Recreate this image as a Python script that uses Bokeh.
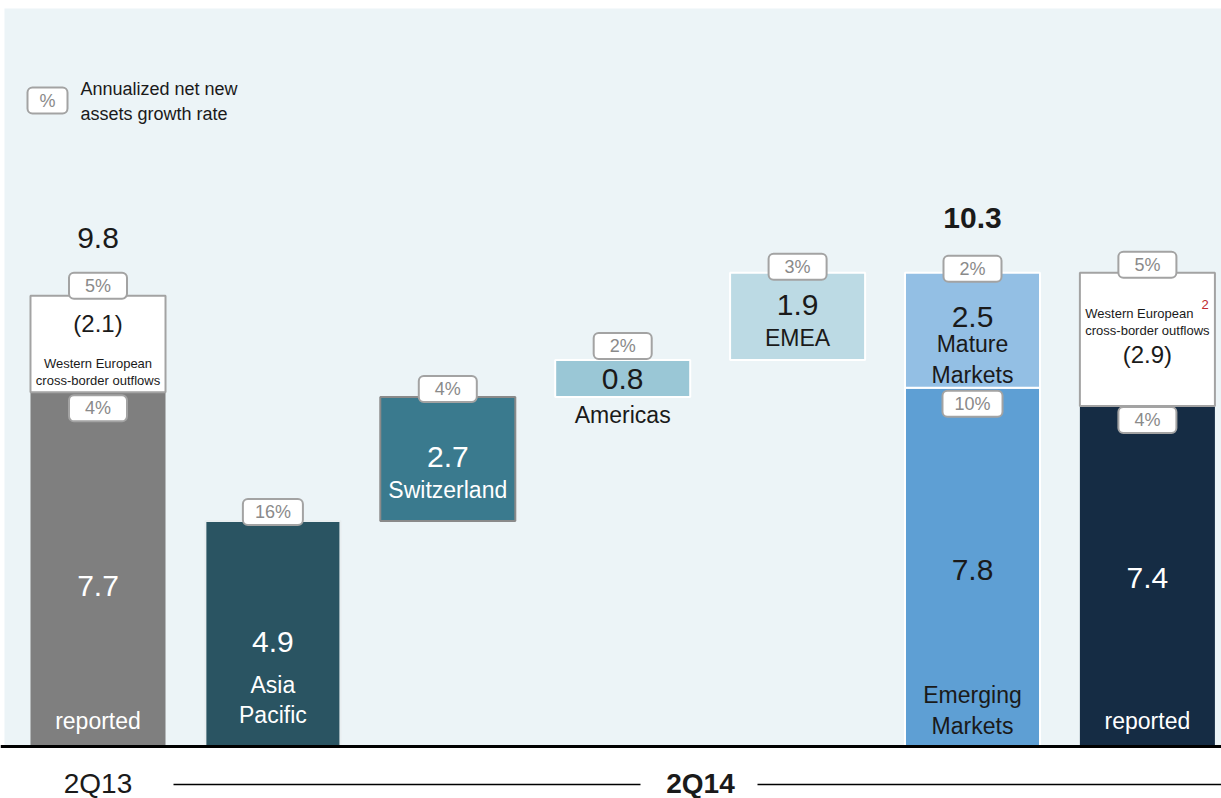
from bokeh.plotting import figure
from bokeh.models import Range1d, BoxAnnotation, Span
from bokeh.embed import file_html
from bokeh.resources import INLINE
from bokeh.core.properties import value

# ---------------- data ----------------
start_label = "2Q13"
end_label = "2Q14"

start_reported = 7.7
start_outflows = 2.1
start_total = 9.8
start_growth = ["4%", "5%"]          # base, outflow

region_names = [["Asia", "Pacific"], ["Switzerland"], ["Americas"], ["EMEA"]]
region_values = [4.9, 2.7, 0.8, 1.9]
region_growth = ["16%", "4%", "2%", "3%"]

market_names = [["Emerging", "Markets"], ["Mature", "Markets"]]
market_values = [7.8, 2.5]
market_growth = ["10%", "2%"]
market_total = 10.3

end_reported = 7.4
end_outflows = 2.9
end_growth = ["4%", "5%"]

outflow_label = ["Western European", "cross-border outflows"]
legend_lines = ["Annualized net new", "assets growth rate"]

# ---------------- styles ----------------
FONT = "Liberation Sans"
DARK = "#1a1a1a"
PCTC = "#8a8a8a"
BOXLINE = "#a3a3a3"
PANEL = "#ecf4f7"
C_START = "#7f7f7f"
C_REG = ["#2a5462", "#3a7a8e", "#9ac7d6", "#bcdae4"]
REG_LINE = ["#e8eef0", "#8a8a8a", "white", "white"]
REG_TXT = ["white", "white", DARK, DARK]
C_EM, C_MM = "#5e9fd4", "#93bfe4"
C_END = "#152c44"

PXU = 174.9   # px per category
PYU = 46.0    # px per unit
W, H = 1221, 798
BW = 0.772
OX, OY = 0, 0   # page offset of the figure


def X(px):
    return (px - 97.5) / PXU


def Y(py):
    return (746 - py) / PYU


p = figure(width=W, height=H, output_backend="svg", toolbar_location=None,
           x_range=Range1d(X(OX), X(OX + W)), y_range=Range1d(Y(OY + H), Y(OY)),
           x_axis_location=None, y_axis_location=None, min_border=0)
p.outline_line_color = None
p.grid.visible = False
p.background_fill_color = "white"
p.border_fill_color = "white"

p.add_layout(BoxAnnotation(bottom=0, top=Y(8), left=X(4), fill_color=PANEL,
                           fill_alpha=1, line_color=None, level="underlay"))


def lab(x, y, t, size, color=DARK, dy=0, dx=0, bold=False, align="center",
        baseline="middle"):
    p.text(x=[x], y=[y], text=[t], x_offset=dx, y_offset=dy,
           text_font=value(FONT), text_font_size=f"{size}px", text_color=color,
           text_font_style="bold" if bold else "normal",
           text_align=align, text_baseline=baseline)


def pct(x, y, t, dy=0):
    ph = 16 if len(t) <= 2 else 12
    if len(t) == 1:
        ph = 12
    p.text(x=[x], y=[y], text=[t], y_offset=dy, text_font=value(FONT),
           text_font_size="18px", text_color=PCTC, text_align="center",
           text_baseline="middle", background_fill_color="white",
           border_line_color=BOXLINE, border_line_width=2, border_radius=5,
           padding=dict(left=ph, right=ph, top=3, bottom=3))


# ---------------- start bar ----------------
p.vbar(x=[0], bottom=[0], top=[start_reported], width=BW, fill_color=C_START,
       line_color=None)
p.vbar(x=[0], bottom=[start_reported], top=[start_reported + start_outflows],
       width=BW, fill_color="white", line_color=BOXLINE, line_width=2)

# ---------------- regions ----------------
tops = []
acc = 0.0
for v in region_values:
    acc += v
    tops.append(acc)
bottoms = [t - v for t, v in zip(tops, region_values)]
rx = [1, 2, 3, 4]
p.vbar(x=rx, bottom=bottoms, top=tops, width=BW, fill_color=C_REG,
       line_color=REG_LINE, line_width=2)

# ---------------- markets ----------------
m_bottoms = [0, market_values[0]]
m_tops = [market_values[0], market_values[0] + market_values[1]]
p.vbar(x=[5, 5], bottom=m_bottoms, top=m_tops, width=BW,
       fill_color=[C_EM, C_MM], line_color="white", line_width=2)

# ---------------- end bar ----------------
p.vbar(x=[6], bottom=[0], top=[end_reported], width=BW, fill_color=C_END,
       line_color=None)
p.vbar(x=[6], bottom=[end_reported], top=[end_reported + end_outflows],
       width=BW, fill_color="white", line_color=BOXLINE, line_width=2)

# baseline
p.add_layout(Span(location=0, dimension="width", line_color="black",
                  line_width=3))

# ---------------- labels: start ----------------
lab(0, start_total, f"{start_total:.1f}", 30, dy=-58)
lab(0, start_total, f"({start_outflows:.1f})", 24, dy=28)
lab(0, start_reported, outflow_label[0], 13, dy=-29)
lab(0, start_reported, outflow_label[1], 13, dy=-12)
lab(0, start_reported / 2, f"{start_reported:.1f}", 30, color="white", dy=17)
lab(0, 0, "reported", 23, color="white", dy=-26)
pct(0, start_total, start_growth[1], dy=-10)
pct(0, start_reported, start_growth[0], dy=16)

# ---------------- labels: regions ----------------
val_dy = [8, -2, 0, -11]
name_dy = [[51, 81], [31], [36], [22]]
pct_dy = [-9, -8, -14, -6]
for i in range(4):
    mid = (bottoms[i] + tops[i]) / 2
    lab(rx[i], mid, f"{region_values[i]:.1f}", 30, color=REG_TXT[i], dy=val_dy[i])
    for nm, d in zip(region_names[i], name_dy[i]):
        lab(rx[i], mid, nm, 23, color=REG_TXT[i], dy=d)
for i in range(4):
    pct(rx[i], tops[i], region_growth[i], dy=pct_dy[i])

# ---------------- labels: markets ----------------
lab(5, market_total, f"{market_total:.1f}", 30, bold=True, dy=-55)
mm_mid = (m_bottoms[1] + m_tops[1]) / 2
lab(5, mm_mid, f"{market_values[1]:.1f}", 30, dy=-13)
lab(5, mm_mid, market_names[1][0], 23, dy=14)
lab(5, mm_mid, market_names[1][1], 23, dy=45)
em_mid = market_values[0] / 2
lab(5, em_mid, f"{market_values[0]:.1f}", 30, dy=3)
lab(5, 0, market_names[0][0], 23, dy=-52)
lab(5, 0, market_names[0][1], 23, dy=-21)
pct(5, m_tops[1], market_growth[1], dy=-4)
pct(5, m_tops[0], market_growth[0], dy=16)

# ---------------- labels: end ----------------
etop = end_reported + end_outflows
lab(6, etop, outflow_label[0], 13, dy=41, dx=-8)
lab(6, etop, "2", 13, color="#c0282d", dy=32, dx=54, align="left")
lab(6, etop, outflow_label[1], 13, dy=58)
lab(6, etop, f"({end_outflows:.1f})", 24, dy=82)
lab(6, end_reported / 2, f"{end_reported:.1f}", 30, color="white", dy=2)
lab(6, 0, "reported", 23, color="white", dy=-26)
pct(6, etop, end_growth[1], dy=-8)
pct(6, end_reported, end_growth[0], dy=14)

# ---------------- legend ----------------
pct(X(47), Y(100), "%")
lab(X(80), Y(88), legend_lines[0], 18, align="left")
lab(X(80), Y(113), legend_lines[1], 18, align="left")

# ---------------- period labels ----------------
lab(0, Y(783), start_label, 28)
lab(X(700), Y(783), end_label, 28, bold=True)
p.segment(x0=[X(173), X(757)], y0=[Y(784), Y(784)], x1=[X(640), X(1221)],
          y1=[Y(784), Y(784)], line_color="black", line_width=1.5)

open("out.html", "w").write(file_html(p, INLINE))
